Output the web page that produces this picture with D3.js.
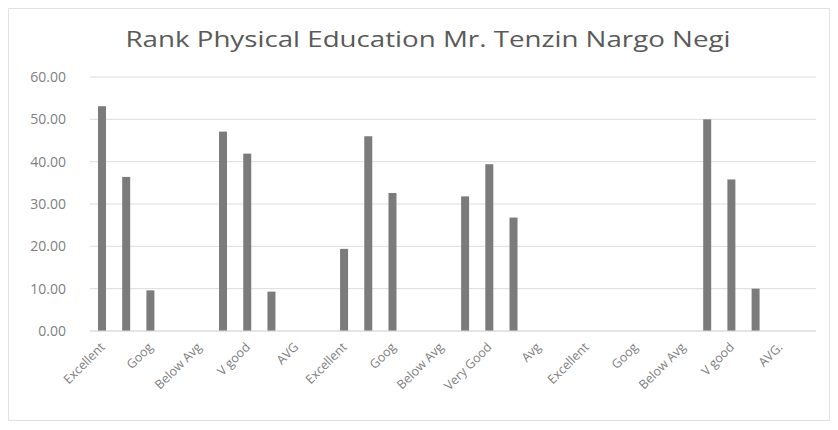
<!DOCTYPE html>
<html>
<head>
<meta charset="utf-8">
<script src="https://cdn.jsdelivr.net/npm/d3@7/dist/d3.min.js"></script>
<style>
  html, body { margin: 0; padding: 0; background: #ffffff; }
  text, .xlab { font-family: "Open Sans", "Noto Sans", sans-serif; }
  #wrap { position: relative; width: 838px; height: 430px; }
  .xlab { position: absolute; font-size: 12.5px; color: #808080; white-space: nowrap;
          transform-origin: 100% 50%; line-height: 1; }
</style>
</head>
<body>
<div id="wrap"><svg id="chart" width="838" height="430"></svg></div>
<script>
// ---- Data ----
const title = "Rank Physical Education Mr. Tenzin Nargo Negi";
const categories = [
  "Excellent", "V good", "Goog", "AVG", "Below Avg",
  "Excellent", "V good", "Goog", "AVG", "Below Avg",
  "Excellent", "V good", "Goog", "AVG", "Below Avg",
  "Excellent", "Very Good", "Goog", "Avg", "Below Avg",
  "Excellent", "V good", "Goog", "AVG", "Below Avg",
  "Excellent", "V good", "Goog", "AVG.", "Below Avg"
];
const values = [
  53.1, 36.4, 9.6, 0, 0,
  47.1, 41.9, 9.3, 0, 0,
  19.4, 46.0, 32.6, 0, 0,
  31.8, 39.4, 26.8, 0, 0,
  0, 0, 0, 0, 0,
  50.0, 35.8, 10.0, 0, 0
];
const yTicks = [0, 10, 20, 30, 40, 50, 60];

// ---- Layout ----
const svg = d3.select("#chart");
const W = 838, H = 430;
const margin = { left: 90, right: 22, top: 77, bottom: 99 };
const plotW = W - margin.left - margin.right;
const plotH = H - margin.top - margin.bottom;

// frame
svg.append("rect")
  .attr("x", 8.5).attr("y", 8.5)
  .attr("width", W - 17).attr("height", H - 18)
  .attr("fill", "#ffffff").attr("stroke", "#e2e2e2");

svg.append("text")
  .attr("x", 428).attr("y", 47)
  .attr("text-anchor", "middle")
  .attr("font-size", 22)
  .attr("textLength", 605)
  .attr("lengthAdjust", "spacingAndGlyphs")
  .attr("fill", "#5a5a5a")
  .text(title);

const idx = d3.range(categories.length);
const x = d3.scaleBand().domain(idx).range([0, plotW]).paddingInner(0.67).paddingOuter(0.33);
const y = d3.scaleLinear().domain([0, 60]).range([plotH, 0]);

const g = svg.append("g").attr("transform", `translate(${margin.left},${margin.top})`);

// gridlines
g.append("g")
  .selectAll("line").data(yTicks).join("line")
  .attr("x1", 0).attr("x2", plotW)
  .attr("y1", d => y(d)).attr("y2", d => y(d))
  .attr("stroke", "#dcdcdc").attr("stroke-width", 1);

// y axis
const yAxis = d3.axisLeft(y).tickValues(yTicks).tickFormat(d3.format(".2f")).tickSize(0).tickPadding(24);
g.append("g").call(yAxis)
  .call(s => s.select(".domain").remove())
  .call(s => s.selectAll("text").attr("font-size", 14).attr("fill", "#808080"));

// bars
g.append("g")
  .selectAll("rect").data(values).join("rect")
  .attr("x", (d, i) => x(i))
  .attr("width", x.bandwidth())
  .attr("y", d => y(d))
  .attr("height", d => y(0) - y(d))
  .attr("fill", "#7b7b7b");

// x axis line
g.append("line")
  .attr("x1", 0).attr("x2", plotW)
  .attr("y1", y(0)).attr("y2", y(0))
  .attr("stroke", "#dcdcdc");

// x labels (every other category), rotated -45 as HTML overlay
const shown = idx.filter(i => i % 2 === 0);
d3.select("#wrap").selectAll("div.xlab").data(shown).join("div")
  .attr("class", "xlab")
  .text(i => categories[i])
  .each(function(i) {
    const el = this;
    const w = el.getBoundingClientRect().width;
    const ax = margin.left + x(i) + x.bandwidth() / 2 + 1;
    const ay = margin.top + y(0) + 14;
    el.style.left = (ax - w) + "px";
    el.style.top = (ay - 6) + "px";
    el.style.transform = "rotate(-45deg)";
  });
</script>
</body>
</html>
